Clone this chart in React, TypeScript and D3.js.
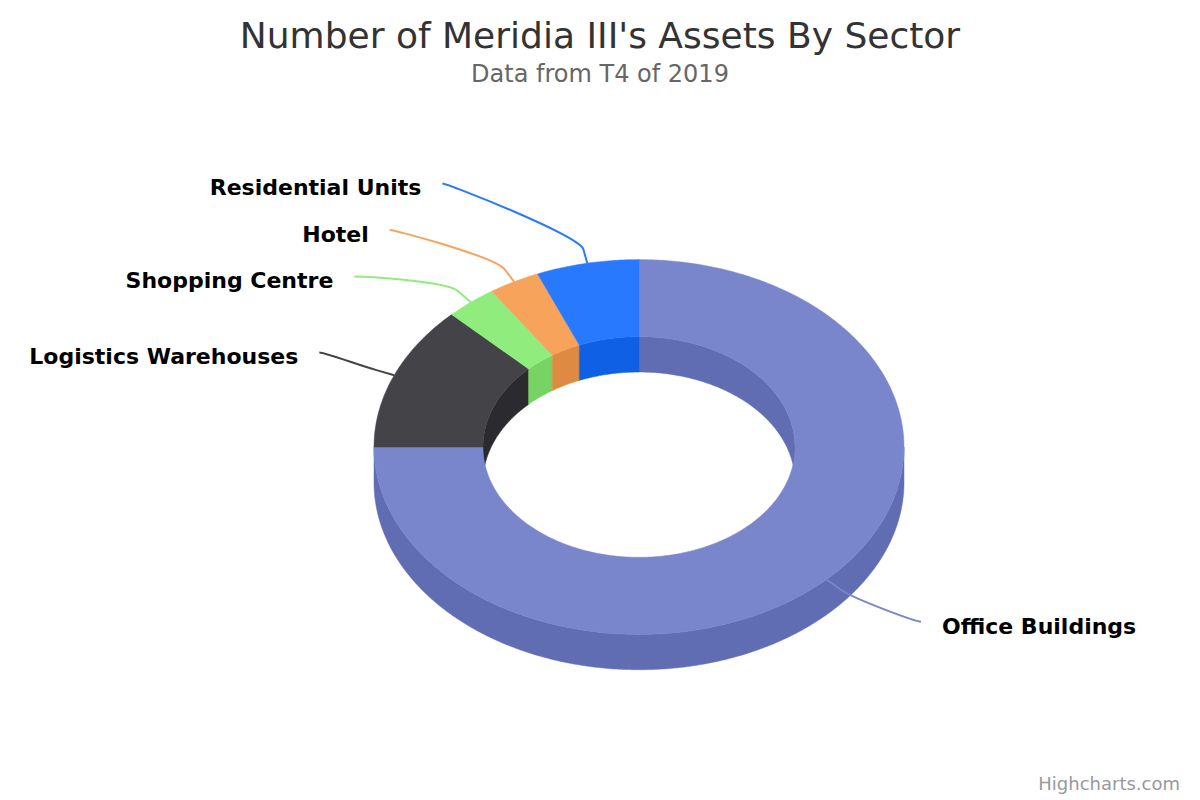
import React, { useEffect, useRef } from 'react';
import * as d3 from 'd3';

const categories = [
  'Office Buildings',
  'Logistics Warehouses',
  'Shopping Centre',
  'Hotel',
  'Residential Units',
];
const assetCounts = [24, 4, 1, 1, 2];
const sliceColors = ['#7986cb', '#434348', '#90ed7d', '#f7a35c', '#2979ff'];

const chartTitle = "Number of Meridia III's Assets By Sector";
const chartSubtitle = 'Data from T4 of 2019';
const creditText = 'Highcharts.com';

interface Slice {
  name: string;
  value: number;
  color: string;
}

interface LabelItem {
  d: d3.PieArcDatum<Slice>;
  mid: number;
  left: boolean;
  y0: number;
  y: number;
}

const App: React.FC = () => {
  const chartRef = useRef<SVGSVGElement>(null);

  useEffect(() => {
    if (!chartRef.current) return;
    const svg = d3.select(chartRef.current);
    svg.selectAll('*').remove();
    const font = '"DejaVu Sans", sans-serif';

    // 3d donut geometry (alpha 45deg tilt)
    const cx = 639;
    const cy = 447;
    const rOuter = 265;
    const rInner = 156;
    const alpha = Math.PI / 4;
    const tilt = Math.cos(alpha);
    const depth = 50 * Math.sin(alpha);

    const project = (r: number, a: number, dz = 0): [number, number] => [
      cx + r * Math.sin(a),
      cy - r * tilt * Math.cos(a) + dz,
    ];
    const arcPts = (r: number, a0: number, a1: number, dz: number) => {
      const n = Math.max(2, Math.ceil(Math.abs(a1 - a0) / 0.01));
      return d3.range(n + 1).map((i) => project(r, a0 + ((a1 - a0) * i) / n, dz));
    };
    const line = d3.line();
    const shape = (pts: [number, number][]) => line(pts) + 'Z';
    const shade = (c: string) => {
      const k = d3.rgb(c);
      return d3.rgb(k.r - 25.5, k.g - 25.5, k.b - 25.5).formatHex();
    };
    const clip = (a0: number, a1: number, lo: number, hi: number) => {
      const s = Math.max(a0, lo);
      const e = Math.min(a1, hi);
      return s < e ? [s, e] : null;
    };

    const slices: Slice[] = categories.map((name, i) => ({
      name,
      value: assetCounts[i],
      color: sliceColors[i],
    }));
    const arcs = d3
      .pie<Slice>()
      .sort(null)
      .value((d) => d.value)(slices);

    const pieG = svg.append('g');

    // inner walls on the back half
    arcs.forEach((d) => {
      [
        [0, Math.PI / 2],
        [1.5 * Math.PI, 2 * Math.PI],
      ].forEach(([lo, hi]) => {
        const seg = clip(d.startAngle, d.endAngle, lo, hi);
        if (!seg) return;
        const c = shade(d.data.color);
        pieG
          .append('path')
          .attr('d', shape([...arcPts(rInner, seg[0], seg[1], 0), ...arcPts(rInner, seg[1], seg[0], depth)]))
          .attr('fill', c)
          .attr('stroke', c)
          .attr('stroke-width', 0.5);
      });
    });

    // outer walls on the front half
    arcs.forEach((d) => {
      const seg = clip(d.startAngle, d.endAngle, Math.PI / 2, 1.5 * Math.PI);
      if (!seg) return;
      const c = shade(d.data.color);
      pieG
        .append('path')
        .attr('d', shape([...arcPts(rOuter, seg[0], seg[1], 0), ...arcPts(rOuter, seg[1], seg[0], depth)]))
        .attr('fill', c)
        .attr('stroke', c)
        .attr('stroke-width', 0.5);
    });

    // top faces
    arcs.forEach((d) => {
      pieG
        .append('path')
        .attr('d', shape([...arcPts(rOuter, d.startAngle, d.endAngle, 0), ...arcPts(rInner, d.endAngle, d.startAngle, 0)]))
        .attr('fill', d.data.color)
        .attr('stroke', d.data.color)
        .attr('stroke-width', 0.5);
    });

    // data labels with connectors
    const labelRx = 334;
    const labelRy = 326;
    const labelYRadius = 247;
    const labelGap = 46.5;
    const bendOut = 20;
    const textPad = 21;

    const items: LabelItem[] = arcs.map((d) => {
      const mid = (d.startAngle + d.endAngle) / 2;
      return { d, mid, left: mid > Math.PI, y0: -labelYRadius * Math.cos(mid), y: 0 };
    });

    const spread = (list: LabelItem[]) => {
      const sorted = [...list].sort((a, b) => a.y0 - b.y0);
      const place = (cl: LabelItem[]) => {
        const mean = d3.mean(cl, (it) => it.y0) as number;
        cl.forEach((it, i) => {
          it.y = mean + (i - (cl.length - 1) / 2) * labelGap;
        });
      };
      const clusters = sorted.map((it) => [it]);
      clusters.forEach(place);
      let merged = true;
      while (merged) {
        merged = false;
        for (let i = 0; i < clusters.length - 1; i++) {
          const a = clusters[i];
          const b = clusters[i + 1];
          if (a[a.length - 1].y + labelGap > b[0].y) {
            const c = [...a, ...b];
            place(c);
            clusters.splice(i, 2, c);
            merged = true;
            break;
          }
        }
      }
    };
    spread(items.filter((it) => it.left));
    spread(items.filter((it) => !it.left));

    const labelG = svg.append('g');
    items.forEach((it) => {
      const dy = it.y;
      const dx = labelRx * Math.sqrt(Math.max(0, 1 - (dy / labelRy) ** 2));
      const lx = it.left ? cx - dx : cx + dx;
      const ly = cy + dy;
      const [tx, ty] = project(rOuter, it.mid);
      const [bx, by] = project(rOuter + bendOut, it.mid);

      labelG
        .append('path')
        .attr(
          'd',
          `M${lx},${ly}C${lx + (it.left ? 5 : -5)},${ly} ${2 * bx - tx},${2 * by - ty} ${bx},${by}L${tx},${ty}`
        )
        .attr('fill', 'none')
        .attr('stroke', it.d.data.color)
        .attr('stroke-width', 2);

      labelG
        .append('text')
        .attr('x', it.left ? lx - textPad : lx + textPad)
        .attr('y', ly + 12)
        .attr('text-anchor', it.left ? 'end' : 'start')
        .attr('font-family', font)
        .attr('font-size', 22)
        .attr('font-weight', 'bold')
        .attr('fill', '#000000')
        .text(it.d.data.name);
    });

    svg
      .append('text')
      .attr('x', 600)
      .attr('y', 48)
      .attr('text-anchor', 'middle')
      .attr('font-family', font)
      .attr('font-size', 36)
      .attr('fill', '#333333')
      .text(chartTitle);

    svg
      .append('text')
      .attr('x', 600)
      .attr('y', 82)
      .attr('text-anchor', 'middle')
      .attr('font-family', font)
      .attr('font-size', 24)
      .attr('fill', '#666666')
      .text(chartSubtitle);

    svg
      .append('text')
      .attr('x', 1180)
      .attr('y', 790)
      .attr('text-anchor', 'end')
      .attr('font-family', font)
      .attr('font-size', 18)
      .attr('fill', '#999999')
      .text(creditText);
  }, []);

  return (
    <svg
      ref={chartRef}
      width={1200}
      height={800}
      style={{ position: 'absolute', left: 0, top: 0, display: 'block', background: '#ffffff' }}
    ></svg>
  );
};

export default App;
